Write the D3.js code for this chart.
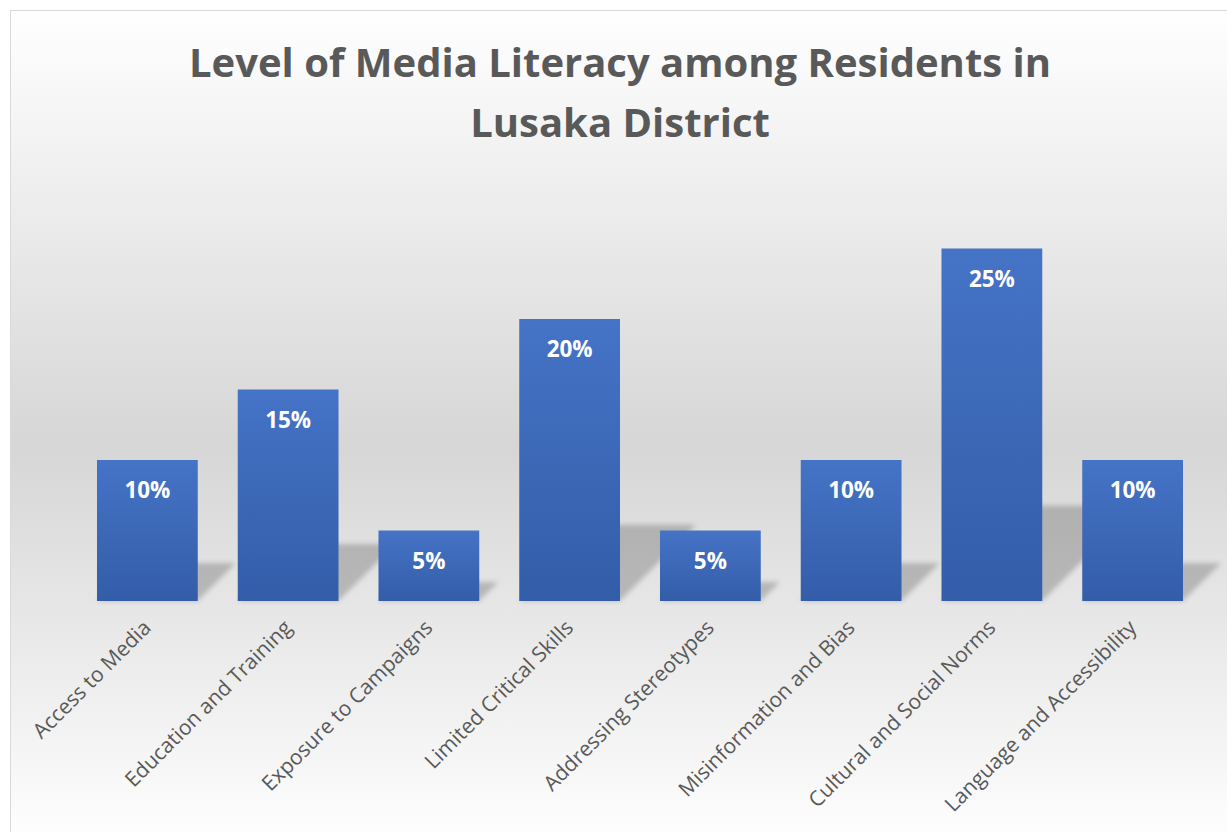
<!DOCTYPE html>
<meta charset="utf-8">
<style>
    body { margin: 0; background: #fff; }
    text { font-family: "Open Sans", sans-serif; }
    .title { font-weight: bold; fill: #595959; font-size: 40px; }
    .x-label { fill: #595959; font-size: 21px; }
    .value { fill: #fff; font-weight: bold; font-size: 22.5px; }
</style>
<body>
<script src="https://cdn.jsdelivr.net/npm/d3@7"></script>
<script>
    var categories = ["Access to Media", "Education and Training", "Exposure to Campaigns",
                      "Limited Critical Skills", "Addressing Stereotypes", "Misinformation and Bias",
                      "Cultural and Social Norms", "Language and Accessibility"];
    var values = [10, 15, 5, 20, 5, 10, 25, 10];
    var titleLines = ["Level of Media Literacy among Residents in", "Lusaka District"];

    var width = 1227, height = 832;

    var svg = d3.select("body").append("svg")
        .attr("width", width)
        .attr("height", height);

    var defs = svg.append("defs");

    var bg = defs.append("linearGradient")
        .attr("id", "bg")
        .attr("gradientUnits", "userSpaceOnUse")
        .attr("x1", 0).attr("y1", 10).attr("x2", 0).attr("y2", 850);
    bg.append("stop").attr("offset", 0).attr("stop-color", "#ffffff");
    bg.append("stop").attr("offset", 0.52).attr("stop-color", "#d6d6d6");
    bg.append("stop").attr("offset", 1).attr("stop-color", "#ffffff");

    var barFill = defs.append("linearGradient")
        .attr("id", "barFill")
        .attr("x1", 0).attr("y1", 0).attr("x2", 0).attr("y2", 1);
    barFill.append("stop").attr("offset", 0).attr("stop-color", "#4573c6");
    barFill.append("stop").attr("offset", 1).attr("stop-color", "#335da8");

    defs.append("filter")
        .attr("id", "blur")
        .attr("x", "-50%").attr("y", "-50%").attr("width", "200%").attr("height", "200%")
        .append("feGaussianBlur")
        .attr("stdDeviation", 2.5);

    // chart frame
    svg.append("rect")
        .attr("x", 10.5).attr("y", 10.5)
        .attr("width", 1240).attr("height", 840)
        .attr("fill", "url(#bg)")
        .attr("stroke", "#d9d9d9");

    var x = d3.scaleBand()
        .domain(categories)
        .range([77, 1203])
        .paddingInner(0.284)
        .paddingOuter(0.142);

    var y = d3.scaleLinear()
        .domain([0, 30])
        .range([601, 178]);

    var data = categories.map(function(c, i) { return {name: c, value: values[i]}; });

    // perspective shadows, drawn behind the bars
    svg.append("g")
        .attr("filter", "url(#blur)")
        .selectAll("path")
        .data(data)
        .enter().append("path")
        .attr("fill", "#000")
        .attr("fill-opacity", 0.2)
        .attr("d", function(d) {
            var x0 = x(d.name), x1 = x0 + x.bandwidth(), base = y(0);
            var hs = (y(0) - y(d.value)) * 0.27;
            return "M" + x0 + "," + base + "L" + x1 + "," + base +
                   "L" + (x1 + hs) + "," + (base - hs) + "L" + (x0 + hs) + "," + (base - hs) + "Z";
        });

    svg.append("g")
        .selectAll("rect")
        .data(data)
        .enter().append("rect")
        .attr("x", function(d) { return x(d.name); })
        .attr("y", function(d) { return y(d.value); })
        .attr("width", x.bandwidth())
        .attr("height", function(d) { return y(0) - y(d.value); })
        .attr("fill", "url(#barFill)");

    svg.append("g")
        .selectAll("text")
        .data(data)
        .enter().append("text")
        .attr("class", "value")
        .attr("text-anchor", "middle")
        .attr("x", function(d) { return x(d.name) + x.bandwidth() / 2; })
        .attr("y", function(d) { return y(d.value) + 38; })
        .text(function(d) { return d.value + "%"; });

    svg.append("g")
        .selectAll("text")
        .data(categories)
        .enter().append("text")
        .attr("class", "x-label")
        .attr("text-anchor", "end")
        .attr("transform", function(d) {
            return "translate(" + (x(d) + x.bandwidth() / 2 + 5) + ",629) rotate(-45)";
        })
        .text(function(d) { return d; });

    svg.append("g")
        .selectAll("text")
        .data(titleLines)
        .enter().append("text")
        .attr("class", "title")
        .attr("text-anchor", "middle")
        .attr("x", 620)
        .attr("y", function(d, i) { return 77 + i * 60; })
        .text(function(d) { return d; });
</script>
